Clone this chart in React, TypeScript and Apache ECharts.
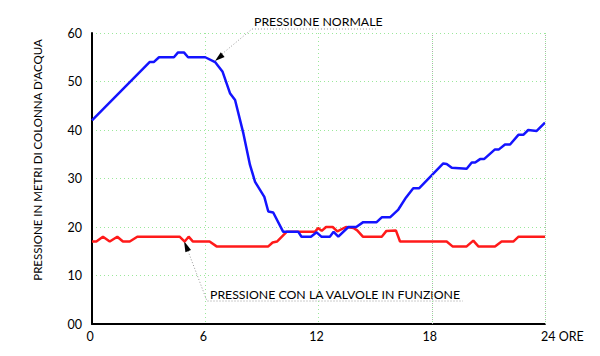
import React, { useEffect, useRef } from "react";
import * as echarts from "echarts";

const blueHours = [0, 3.05, 3.27, 3.55, 4.34, 4.56, 4.87, 5.09, 6.0, 6.52, 6.92, 7.31, 7.58, 8.02, 8.37, 8.64, 9.13, 9.34, 9.6, 10.13, 10.93, 11.1, 11.6, 11.9, 12.15, 12.6, 12.8, 13.05, 13.58, 14.0, 14.37, 15.08, 15.35, 15.79, 16.23, 16.64, 17.02, 17.34, 18.61, 18.79, 19.06, 19.85, 20.12, 20.3, 20.56, 20.77, 21.35, 21.56, 21.88, 22.15, 22.59, 22.85, 23.11, 23.56, 24];
const blueValues = [42, 54, 54, 55, 55, 56, 56, 55, 55, 54, 52, 47.6, 46.2, 39.3, 32.8, 29.3, 26.2, 23.2, 23, 19, 19, 18, 18, 18.9, 18, 18, 19, 18, 20, 20, 21, 21, 22, 22, 23.6, 26.1, 28, 28, 33.1, 33, 32.2, 32, 33.3, 33.3, 34, 34, 36, 36, 37, 37, 39, 39, 40, 39.8, 41.5];

const redHours = [0, 0.23, 0.58, 0.94, 1.34, 1.64, 2.0, 2.4, 4.64, 4.91, 5.12, 5.35, 6.23, 6.6, 9.34, 9.57, 9.8, 10.31, 11.81, 11.98, 12.17, 12.4, 12.75, 13.0, 13.45, 13.85, 14.05, 14.35, 15.35, 15.6, 16.1, 16.32, 16.55, 18.79, 19.1, 19.85, 20.2, 20.47, 21.35, 21.7, 22.32, 22.6, 24];
const redValues = [17, 17, 18, 17, 18, 17, 17, 18, 18, 17, 18, 17, 17, 16, 16, 16.8, 17, 19, 19, 19.8, 19.2, 20, 20, 19.1, 20, 19.8, 19.3, 18, 18, 19.2, 19.3, 17, 17, 17, 16, 16, 17.2, 16, 16, 17, 17, 18, 18];

const xTicks = [0, 6, 12, 18, 24];
const yTicks = [0, 10, 20, 30, 40, 50, 60];
const grayGridHours = [18, 24];

const yAxisTitle = "PRESSIONE IN METRI DI COLONNA D'ACQUA";
const normalLabel = "PRESSIONE NORMALE";
const valveLabel = "PRESSIONE CON LA VALVOLE IN FUNZIONE";

const FONT = "Lato, 'Open Sans', sans-serif";

export default function App() {
  const ref = useRef<HTMLDivElement>(null);
  useEffect(() => {
    if (!ref.current) return;
    const chart = echarts.init(ref.current, null, { renderer: "svg" });
    const blue = blueHours.map((h, i) => [h, blueValues[i]]);
    const red = redHours.map((h, i) => [h, redValues[i]]);
    const dotted = { type: [1, 3] as any, dashOffset: 0 };
    chart.setOption({
      animation: false,
      backgroundColor: "#ffffff",
      grid: { left: 92, right: 55, top: 33, bottom: 32 },
      xAxis: {
        type: "value",
        min: xTicks[0],
        max: xTicks[xTicks.length - 1],
        interval: 6,
        axisLine: { show: true, lineStyle: { color: "#000", width: 2 } },
        axisTick: { show: false },
        axisLabel: {
          color: "#000",
          fontFamily: FONT,
          fontSize: 12.5,
          margin: 6,
          alignMaxLabel: "left",
          padding: [0, 0, 0, -4],
          formatter: (v: number) => (v === 24 ? "24 ORE" : String(v)),
        },
        splitLine: { show: true, lineStyle: { color: "#9be89b", width: 1, ...dotted } },
      },
      yAxis: {
        type: "value",
        min: yTicks[0],
        max: yTicks[yTicks.length - 1],
        interval: 10,
        axisLine: { show: true, lineStyle: { color: "#000", width: 2 } },
        axisTick: { show: false },
        axisLabel: {
          color: "#000",
          fontFamily: FONT,
          fontSize: 12.5,
          margin: 10,
          formatter: (v: number) => (v === 0 ? "00" : String(v)),
        },
        splitLine: { show: true, lineStyle: { color: "#9be89b", width: 1, ...dotted } },
      },
      series: [
        {
          type: "line",
          data: blue,
          showSymbol: false,
          lineStyle: { color: "#1414ff", width: 2.5 },
          z: 3,
          markLine: {
            silent: true,
            symbol: "none",
            label: { show: false },
            lineStyle: { color: "#aaaaaa", width: 1, ...dotted },
            data: grayGridHours.map((h) => ({ xAxis: h })),
          },
        },
        {
          type: "line",
          data: red,
          showSymbol: false,
          lineStyle: { color: "#ff1a1a", width: 2.5 },
          z: 2,
        },
      ],
      graphic: [
        {
          type: "text",
          x: 37,
          y: 160,
          rotation: Math.PI / 2,
          style: {
            text: yAxisTitle,
            fill: "#000",
            font: `11.5px ${FONT}`,
            align: "center",
            verticalAlign: "middle",
          },
        },
        {
          type: "text",
          x: 254,
          y: 27,
          style: { text: normalLabel, fill: "#000", font: `12.3px ${FONT}`, align: "left", verticalAlign: "bottom" },
        },
        {
          type: "polyline",
          shape: { points: [[222, 54], [252, 29], [378, 29]] },
          style: { stroke: "#999", lineWidth: 1, lineDash: [1, 2], fill: null },
        },
        {
          type: "polygon",
          shape: { points: [[215, 61], [224.6, 56.9], [220.8, 52.3]] },
          style: { fill: "#000" },
        },
        {
          type: "text",
          x: 210,
          y: 300,
          style: { text: valveLabel, fill: "#000", font: `12.3px ${FONT}`, align: "left", verticalAlign: "bottom" },
        },
        {
          type: "polyline",
          shape: { points: [[188, 251], [207, 301], [463, 301]] },
          style: { stroke: "#999", lineWidth: 1, lineDash: [1, 2], fill: null },
        },
        {
          type: "polygon",
          shape: { points: [[184, 241], [191, 250], [185.4, 252.2]] },
          style: { fill: "#000" },
        },
      ],
    });
    return () => chart.dispose();
  }, []);
  return <div ref={ref} style={{ position: "absolute", left: 0, top: 0, width: 600, height: 356 }} />;
}
